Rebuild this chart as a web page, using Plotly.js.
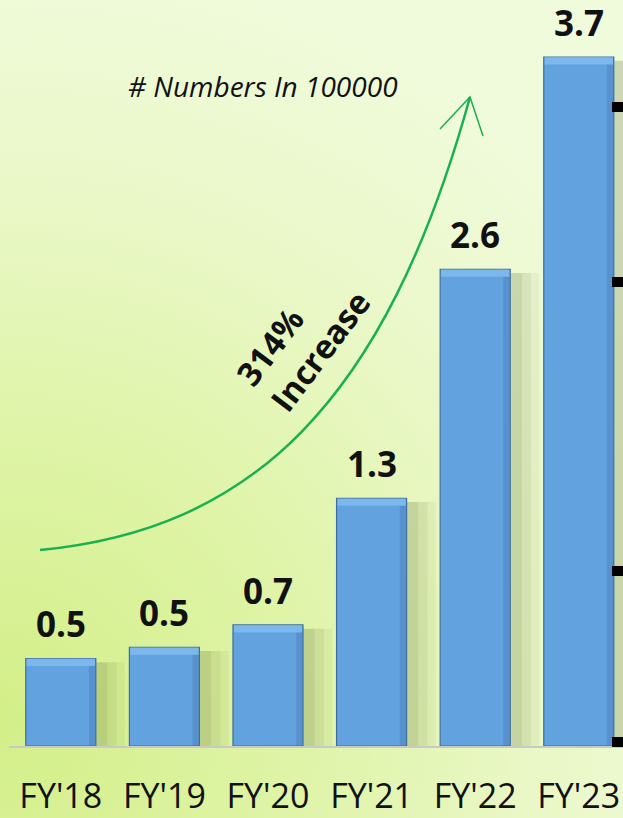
<!DOCTYPE html>
<html><head><meta charset="utf-8">
<script src="https://cdn.plot.ly/plotly-3.0.1.min.js"></script>
<style>
html,body{margin:0;padding:0;}
body{width:623px;height:818px;overflow:hidden;background: radial-gradient(ellipse 130% 95% at 0% 88%, #d3ef88 0%, #dff4a8 38%, #eaf8c8 68%, #f0fbdc 100%);}
#chart{width:623px;height:818px;}
</style></head><body><div id="chart"></div>
<script>
const categories = ["FY'18", "FY'19", "FY'20", "FY'21", "FY'22", "FY'23"];
const values = [0.47, 0.53, 0.65, 1.33, 2.56, 3.7];
const valueLabels = ["0.5", "0.5", "0.7", "1.3", "2.6", "3.7"];
const rightTickVals = [3.43, 2.49, 0.94, 0.02];
const unitNote = "# Numbers In 100000";
const growthNote = "314%<br>Increase";
// growth arrow (paper coordinates): start, control1, control2, tip, arrowhead arms
const curvePts = [[0.0505, 0.2627], [0.3925, 0.2895], [0.6124, 0.4571], [0.7508, 0.8700]];
const headArms = [[0.7020, 0.8271], [0.7720, 0.8177]];

const FONT = "Open Sans, Noto Sans, sans-serif";
const GREEN = "#19b04f";
const BEVEL = 0.04;

function shadow(width, offset, alpha) {
  return {type: "bar", x: categories, y: values.map(v => v - 0.02), width: width, offset: offset,
    marker: {color: `rgba(95,112,60,${alpha})`}, hoverinfo: "skip", showlegend: false};
}
const mainBars = {type: "bar", x: categories, y: values, width: 0.676, offset: -0.338,
  marker: {color: "#62a2df", line: {color: "#3e6e9f", width: 1.2}}, showlegend: false};
const rightEdge = {type: "bar", x: categories, y: values.map(v => v - BEVEL), base: 0, width: 0.06, offset: 0.272,
  marker: {color: "rgba(60,105,160,0.28)"}, hoverinfo: "skip", showlegend: false};
const topEdge = {type: "bar", x: categories, y: values.map(() => BEVEL), base: values.map(v => v - BEVEL),
  width: 0.66, offset: -0.33, marker: {color: "rgba(150,205,250,0.5)"}, hoverinfo: "skip", showlegend: false};
const rightTicks = {type: "scatter", x: [categories[0]], y: [0], yaxis: "y2", mode: "markers",
  marker: {opacity: 0}, hoverinfo: "skip", showlegend: false};

const p = curvePts;
const curvePath = `M ${p[0][0]} ${p[0][1]} C ${p[1][0]} ${p[1][1]}, ${p[2][0]} ${p[2][1]}, ${p[3][0]} ${p[3][1]}`;
const headPath = `M ${headArms[0][0]} ${headArms[0][1]} L ${p[3][0]} ${p[3][1]} L ${headArms[1][0]} ${headArms[1][1]}`;

const annotations = categories.map((c, i) => ({
  x: c, y: values[i], xref: "x", yref: "y", text: valueLabels[i], showarrow: false,
  yanchor: "bottom", yshift: 9, font: {family: FONT, size: 35, color: "#111", weight: "bold"}
}));
annotations.push({x: 0.413, y: 0.913, xref: "paper", yref: "paper", text: unitNote, showarrow: false,
  font: {family: FONT, size: 28, color: "#111", style: "italic"}});
annotations.push({x: 0.479, y: 0.547, xref: "paper", yref: "paper", text: growthNote, showarrow: false,
  textangle: -53, align: "left", font: {family: FONT, size: 33, color: "#111", weight: "bold"}});

const layout = {
  width: 623, height: 818,
  margin: {l: 9, r: 0, t: 0, b: 72},
  paper_bgcolor: "rgba(0,0,0,0)", plot_bgcolor: "rgba(0,0,0,0)",
  barmode: "overlay",
  xaxis: {type: "category", range: [-0.5, 5.427], showgrid: false, zeroline: false,
    showline: true, linecolor: "#c9c9c9", linewidth: 2, ticks: "", ticklabelstandoff: 19,
    tickfont: {family: FONT, size: 34, color: "#111"}, fixedrange: true},
  yaxis: {range: [0, 4.006], showgrid: false, zeroline: false, showline: false,
    showticklabels: false, ticks: "", fixedrange: true},
  yaxis2: {overlaying: "y", side: "right", range: [0, 4.006], showgrid: false, zeroline: false,
    showline: false, showticklabels: false, ticks: "inside", tickmode: "array", tickvals: rightTickVals,
    ticklen: 11, tickwidth: 10, tickcolor: "#000", fixedrange: true},
  shapes: [
    {type: "path", xref: "paper", yref: "paper", path: curvePath, line: {color: GREEN, width: 2.5}},
    {type: "path", xref: "paper", yref: "paper", path: headPath, line: {color: GREEN, width: 1.5}}
  ],
  annotations: annotations,
  font: {family: FONT}
};

Plotly.newPlot("chart", [shadow(0.92, -0.30, 0.07), shadow(0.84, -0.30, 0.09), shadow(0.76, -0.31, 0.11),
  mainBars, rightEdge, topEdge, rightTicks], layout, {displayModeBar: false, staticPlot: true});
</script></body></html>
